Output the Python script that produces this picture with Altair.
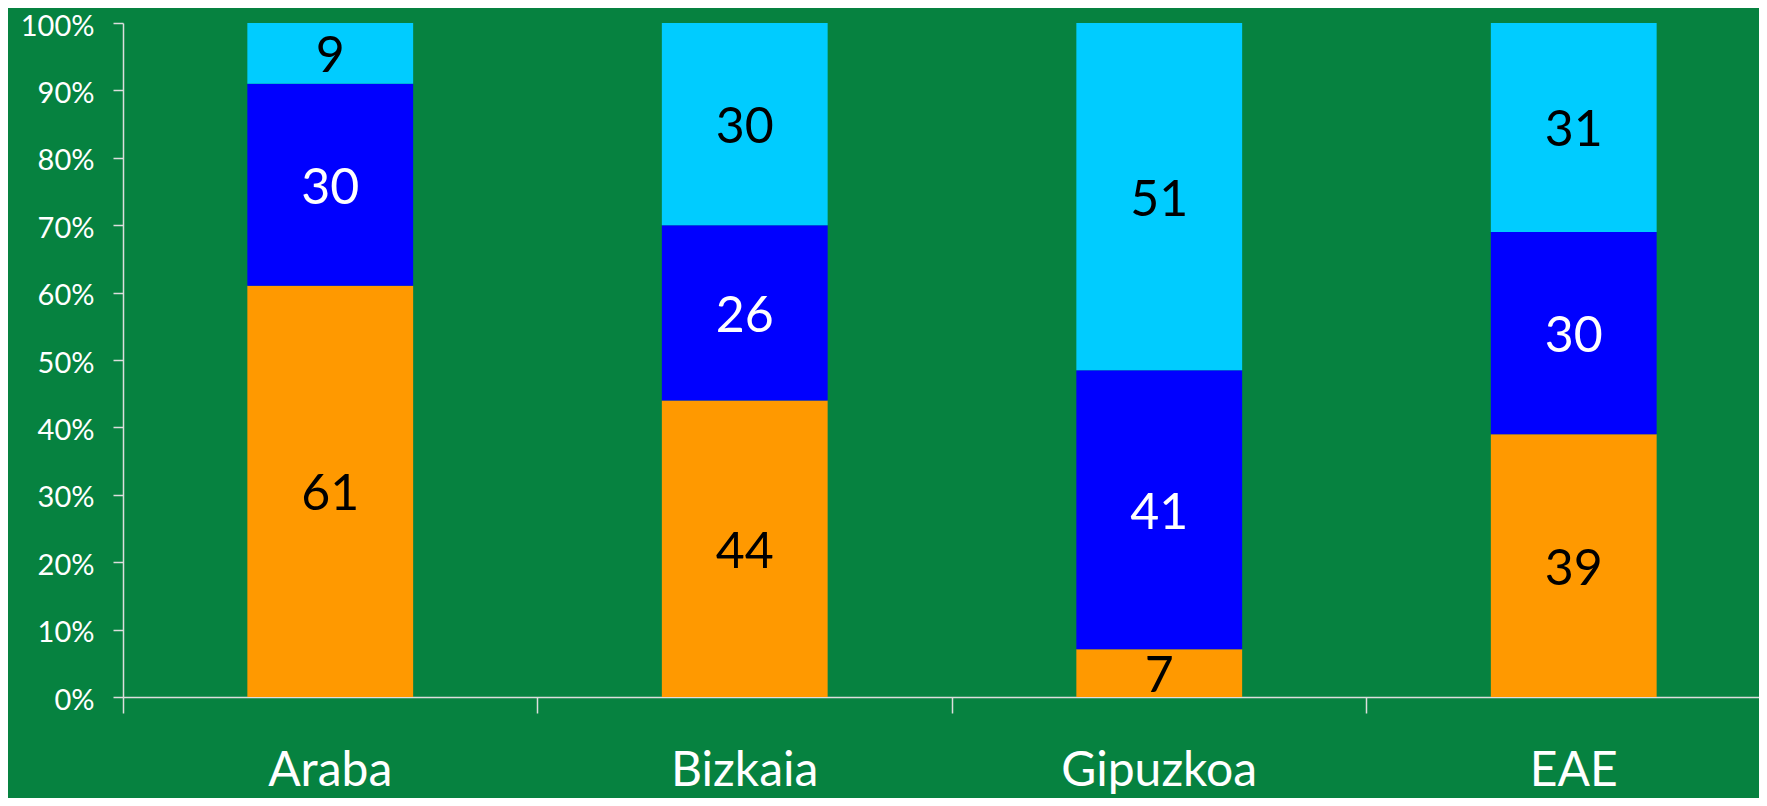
import altair as alt
import pandas as pd

regions = ["Araba", "Bizkaia", "Gipuzkoa", "EAE"]
series = ["1", "2", "3"]
s1 = [61, 44, 7, 39]
s2 = [30, 26, 41, 30]
s3 = [9, 30, 51, 31]
colors = ["#FF9900", "#0000FF", "#00CCFF"]
y_ticks = [i / 10 for i in range(11)]

rows = []
for i, r in enumerate(regions):
    for k, vals in enumerate([s1, s2, s3]):
        rows.append({"region": r, "series": series[k], "ord": k, "value": vals[i]})
df = pd.DataFrame(rows)

BG = "#068240"
FONT = "Lato"

base = alt.Chart(df).transform_joinaggregate(
    total="sum(value)", groupby=["region"]
).transform_window(
    cum="sum(value)", groupby=["region"], sort=[alt.SortField("ord")],
    frame=[None, 0]
).transform_calculate(
    y0="(datum.cum - datum.value) / datum.total",
    y1="datum.cum / datum.total",
    mid="(datum.cum - datum.value / 2) / datum.total",
)

xenc = alt.X(
    "region:N", sort=regions, title=None,
    scale=alt.Scale(range=[0, 1658], paddingInner=0, paddingOuter=0),
    axis=alt.Axis(
        bandPosition=0, labelAngle=0, labelFontSize=48, labelLimit=0,
        labelFont=FONT, labelColor="white", labelBaseline="alphabetic",
        labelPadding=72, tickSize=16, tickColor="#dddddd", domainColor="#dddddd",
        tickWidth=1.5, domainWidth=1.5, labelAlign="center",
    ),
)

bars = base.mark_bar(width=alt.RelativeBandSize(0.4)).encode(
    x=xenc,
    y=alt.Y(
        "y0:Q", title=None,
        scale=alt.Scale(domain=[0, 1], nice=False),
        axis=alt.Axis(
            values=y_ticks, format="%", grid=False, labelFontSize=29,
            labelFont=FONT, labelColor="white", tickSize=10, labelPadding=19,
            tickColor="#dddddd", domainColor="#dddddd", tickWidth=1.5,
            domainWidth=1.5, labelOffset=3,
        ),
    ),
    y2="y1:Q",
    color=alt.Color("series:N", scale=alt.Scale(domain=series, range=colors), legend=None),
)

labels = base.mark_text(font=FONT, fontSize=50, baseline="middle", align="center", dy=4).encode(
    x=alt.X("region:N", sort=regions),
    y=alt.Y("mid:Q"),
    text=alt.Text("value:Q"),
    color=alt.condition(alt.datum.series == "2", alt.value("white"), alt.value("black")),
)

chart = alt.layer(bars, labels).properties(
    width=1636, height=674, background=BG,
    autosize=alt.AutoSizeParams(type="none"),
    padding={"left": 115, "top": 15, "right": 0, "bottom": 101},
).configure_view(stroke=None, fill=BG)

chart.save("out.html", embed_options={"renderer": "svg", "actions": False})
